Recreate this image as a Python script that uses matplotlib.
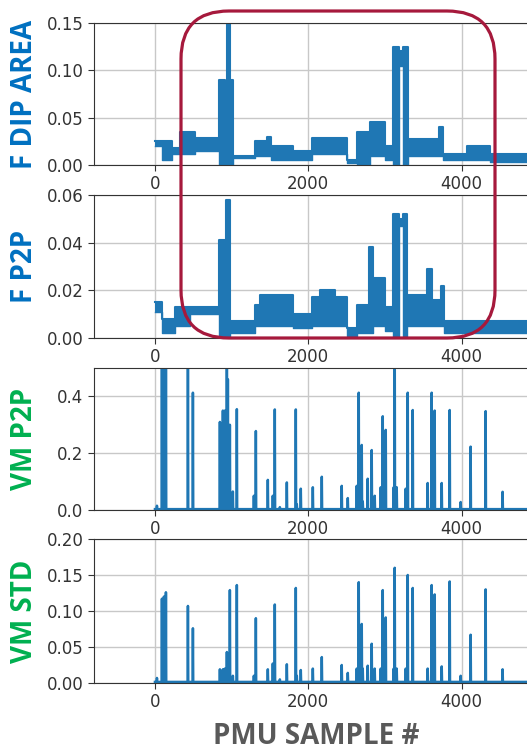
import numpy as np
import matplotlib.pyplot as plt
from matplotlib.patches import FancyBboxPatch
from matplotlib.transforms import IdentityTransform

# F DIP AREA: step segments (start sample, low envelope, high envelope)
dip_x = [0, 91, 222, 326, 521, 834, 912, 938, 977, 1016, 1303, 1459, 1511, 1798,
         2046, 2502, 2632, 2801, 2997, 3101, 3179, 3231, 3297, 3700, 3753, 4065, 4365]
dip_lo = [0.020, 0.005, 0.012, 0.012, 0.015, 0.0, 0.0, 0.0, 0.0, 0.007, 0.010, 0.010, 0.005, 0.005,
          0.012, 0.002, 0.0, 0.010, 0.005, 0.0, 0.105, 0.0, 0.010, 0.010, 0.005, 0.005, 0.003]
dip_hi = [0.025, 0.025, 0.018, 0.035, 0.028, 0.090, 0.080, 0.150, 0.090, 0.010, 0.025, 0.030, 0.020, 0.015,
          0.028, 0.005, 0.035, 0.045, 0.020, 0.125, 0.120, 0.125, 0.027, 0.040, 0.012, 0.020, 0.012]

# F P2P
p2p_x = [0, 91, 261, 456, 834, 925, 977, 1303, 1368, 1798, 2046, 2150, 2350, 2502,
         2632, 2788, 2840, 2997, 3101, 3179, 3231, 3284, 3544, 3609, 3727, 3766]
p2p_lo = [0.011, 0.002, 0.005, 0.010, 0.0, 0.0, 0.002, 0.005, 0.005, 0.004, 0.005, 0.005, 0.005, 0.001,
          0.002, 0.002, 0.005, 0.003, 0.0, 0.047, 0.0, 0.005, 0.005, 0.005, 0.005, 0.002]
p2p_hi = [0.015, 0.008, 0.013, 0.013, 0.041, 0.058, 0.007, 0.014, 0.018, 0.010, 0.017, 0.020, 0.017, 0.004,
          0.014, 0.038, 0.025, 0.013, 0.052, 0.050, 0.052, 0.018, 0.029, 0.016, 0.022, 0.007]
end_sample = 5400

# VM spikes (sample, height)
spike_x = [26, 91, 117, 143, 430, 495, 847, 886, 912, 938, 951, 977, 1016, 1068, 1290, 1316,
           1472, 1537, 1563, 1629, 1720, 1837, 1850, 1902, 2059, 2176, 2436, 2515, 2632, 2658,
           2697, 2710, 2775, 2827, 2866, 2945, 2971, 3010, 3114, 3127, 3153, 3271, 3297, 3362,
           3557, 3609, 3648, 3740, 3844, 3987, 4117, 4313, 4534]
vm_p2p = [0.015, 0.6, 0.6, 0.6, 0.6, 0.413, 0.31, 0.35, 0.35, 0.6, 0.46, 0.30, 0.065, 0.355, 0.05, 0.278,
          0.106, 0.05, 0.354, 0.01, 0.097, 0.354, 0.02, 0.075, 0.08, 0.117, 0.085, 0.042, 0.085, 0.413,
          0.229, 0.03, 0.11, 0.211, 0.05, 0.08, 0.33, 0.282, 0.08, 0.6, 0.08, 0.075, 0.413, 0.352,
          0.095, 0.413, 0.35, 0.095, 0.352, 0.028, 0.223, 0.348, 0.064]
vm_std = [0.007, 0.117, 0.12, 0.126, 0.107, 0.076, 0.019, 0.019, 0.02, 0.043, 0.025, 0.129, 0.01, 0.136, 0.01, 0.09,
          0.019, 0.027, 0.109, 0.005, 0.026, 0.132, 0.01, 0.018, 0.02, 0.036, 0.025, 0.014, 0.02, 0.14,
          0.082, 0.02, 0.024, 0.0545, 0.02, 0.02, 0.129, 0.091, 0.02, 0.16, 0.02, 0.02, 0.15, 0.132,
          0.02, 0.136, 0.123, 0.023, 0.141, 0.01, 0.067, 0.13, 0.019]

labels = ['F DIP AREA', 'F P2P', 'VM P2P', 'VM STD']
label_colors = ['#0070C0', '#0070C0', '#00B050', '#00B050']
yticks = [[0.0, 0.05, 0.10, 0.15], [0.0, 0.02, 0.04, 0.06], [0.0, 0.2, 0.4], [0.0, 0.05, 0.10, 0.15, 0.20]]
ylims = [0.15, 0.06, 0.5, 0.2]
xticks = [0, 2000, 4000]

blue = '#1f77b4'
W, H = 527, 750
fig = plt.figure(figsize=(W / 100, H / 100), dpi=100)

# panel top / bottom in pixels
panels = [(23, 165), (195, 338), (368, 510), (539, 683)]
left_px, right_px = 94, 569
axes = []
for (top, bot) in panels:
    ax = fig.add_axes([left_px / W, 1 - bot / H, (right_px - left_px) / W, (bot - top) / H])
    axes.append(ax)


def steps(ax, xs, lo, hi):
    x = np.append(xs, end_sample)
    lo = np.append(lo, lo[-1])
    hi = np.append(hi, hi[-1])
    ax.fill_between(x, lo, hi, step='post', color=blue, lw=0)
    ax.plot(x, hi, drawstyle='steps-post', color=blue, lw=1.5)
    ax.plot(x, lo, drawstyle='steps-post', color=blue, lw=1.0)


def spikes(ax, xs, hs, base):
    xs = np.asarray(xs, float)
    hs = np.asarray(hs, float)
    px = np.column_stack([xs - 4, xs, xs + 4]).ravel()
    py = np.column_stack([np.full_like(hs, base), hs, np.full_like(hs, base)]).ravel()
    px = np.concatenate([[0], px, [end_sample]])
    py = np.concatenate([[base], py, [base]])
    ax.plot(px, py, color=blue, lw=1.8)


steps(axes[0], dip_x, dip_lo, dip_hi)
steps(axes[1], p2p_x, p2p_lo, p2p_hi)
spikes(axes[2], spike_x, vm_p2p, 0.003)
spikes(axes[3], spike_x, vm_std, 0.0015)

for i, ax in enumerate(axes):
    ax.set_xlim(-795, 5400)
    ax.set_ylim(0, ylims[i])
    ax.set_yticks(yticks[i])
    ax.set_xticks(xticks)
    ax.grid(True, color='#c8c8c8', lw=1.0)
    ax.set_axisbelow(True)
    ax.spines['right'].set_visible(False)
    for s in ['left', 'top', 'bottom']:
        ax.spines[s].set_color('#333333')
    ax.tick_params(labelsize=12, colors='#333333', length=4)
    top, bot = panels[i]
    fig.text(25 / W, 1 - (top + bot) / 2 / H, labels[i], rotation=90, ha='center', va='center',
             fontsize=20, fontweight='bold', color=label_colors[i], family='Open Sans')

for lab in axes[0].get_yticklabels() + axes[1].get_yticklabels() + axes[3].get_yticklabels():
    pass
axes[0].yaxis.set_major_formatter(plt.FormatStrFormatter('%.2f'))
axes[1].yaxis.set_major_formatter(plt.FormatStrFormatter('%.2f'))
axes[2].yaxis.set_major_formatter(plt.FormatStrFormatter('%.1f'))
axes[3].yaxis.set_major_formatter(plt.FormatStrFormatter('%.2f'))

fig.text(316 / W, 1 - 737 / H, 'PMU SAMPLE #', ha='center', va='center', fontsize=20,
         fontweight='bold', color='#595959', family='Open Sans')

# highlight box, in pixels
box = FancyBboxPatch((181, H - 338), 495 - 181, 338 - 11, boxstyle='round,pad=0,rounding_size=48',
                     transform=IdentityTransform(), fill=False, edgecolor='#A6193C', lw=2.3,
                     zorder=10)
fig.patches.append(box)

fig.savefig('out.png', dpi=100)
